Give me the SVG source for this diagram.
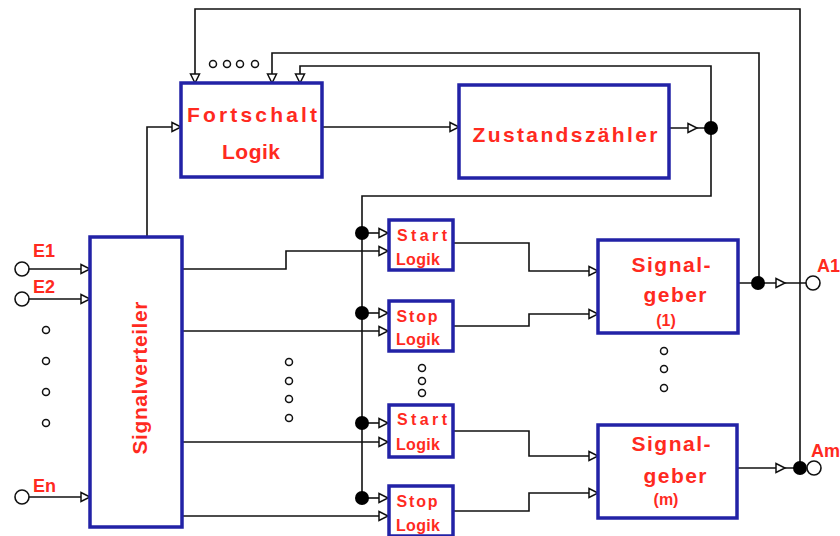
<svg xmlns="http://www.w3.org/2000/svg" xmlns:xlink="http://www.w3.org/1999/xlink" width="840" height="536" viewBox="0 0 840 536">
<style>
.box{fill:#fff;stroke:#2222a6;stroke-width:3.5}
.ln{fill:none;stroke:#111;stroke-width:1.6}
.t{fill:#ff2a1f;font-family:"Liberation Sans",Arial,sans-serif;font-weight:bold;text-anchor:middle}
.big{font-size:21px}
.sm{font-size:16px}
.lbl{fill:#ff2a1f;font-family:"Liberation Sans",Arial,sans-serif;font-weight:bold;font-size:18px}
.dot{fill:#000}
.term{fill:#fff;stroke:#111;stroke-width:1.6}
.sd{fill:#fff;stroke:#111;stroke-width:1.5}
.ar{fill:#fff;stroke:#111;stroke-width:1.5;stroke-linejoin:miter}
</style>
<defs>
<path id="arrR" class="ar" d="M-9,-4.5 L0,0 L-9,4.5 Z"/>
<path id="arrD" class="ar" d="M-4.5,-9 L0,0 L4.5,-9 Z"/>
</defs>
<rect width="840" height="536" fill="#fff"/>

<g id="connectors">
<!-- feedback loops to Fortschalt -->
<polyline class="ln" points="195,83 195,9 800,9 800,468"/>
<polyline class="ln" points="272,83 272,53 759,53 759,283"/>
<polyline class="ln" points="300,83 300,66 711,66 711,196 362,196 362,498"/>
<!-- Signalverteiler to Fortschalt -->
<polyline class="ln" points="147,237 147,127 181,127"/>
<line class="ln" x1="322" y1="127" x2="459" y2="127"/>
<line class="ln" x1="669" y1="128" x2="711" y2="128"/>
<!-- inputs -->
<line class="ln" x1="29" y1="269" x2="90" y2="269"/>
<line class="ln" x1="29" y1="299" x2="90" y2="299"/>
<line class="ln" x1="29" y1="497" x2="90" y2="497"/>
<!-- Signalverteiler outputs -->
<polyline class="ln" points="182,269 286,269 286,251 388,251"/>
<line class="ln" x1="182" y1="331" x2="388" y2="331"/>
<line class="ln" x1="182" y1="442" x2="388" y2="442"/>
<line class="ln" x1="182" y1="516" x2="388" y2="516"/>
<!-- junction branches -->
<line class="ln" x1="362" y1="233" x2="388" y2="233"/>
<line class="ln" x1="362" y1="313" x2="388" y2="313"/>
<line class="ln" x1="362" y1="423" x2="388" y2="423"/>
<line class="ln" x1="362" y1="498" x2="388" y2="498"/>
<!-- Start/Stop to Signalgeber -->
<polyline class="ln" points="453,243 529,243 529,271 598,271"/>
<polyline class="ln" points="453,326 529,326 529,314 598,314"/>
<polyline class="ln" points="453,431 529,431 529,456 598,456"/>
<polyline class="ln" points="453,511 529,511 529,493 598,493"/>
<!-- outputs -->
<line class="ln" x1="738" y1="283" x2="806" y2="283"/>
<line class="ln" x1="737" y1="468" x2="806" y2="468"/>

<use xlink:href="#arrD" x="195" y="83"/>
<use xlink:href="#arrD" x="272" y="83"/>
<use xlink:href="#arrD" x="300" y="83"/>
<use xlink:href="#arrR" x="181" y="127"/>
<use xlink:href="#arrR" x="459" y="127"/>
<use xlink:href="#arrR" x="697" y="128"/>
<use xlink:href="#arrR" x="90" y="269"/>
<use xlink:href="#arrR" x="90" y="299"/>
<use xlink:href="#arrR" x="90" y="497"/>
<use xlink:href="#arrR" x="388" y="233"/>
<use xlink:href="#arrR" x="388" y="251"/>
<use xlink:href="#arrR" x="388" y="313"/>
<use xlink:href="#arrR" x="388" y="331"/>
<use xlink:href="#arrR" x="388" y="423"/>
<use xlink:href="#arrR" x="388" y="442"/>
<use xlink:href="#arrR" x="388" y="498"/>
<use xlink:href="#arrR" x="388" y="516"/>
<use xlink:href="#arrR" x="598" y="271"/>
<use xlink:href="#arrR" x="598" y="314"/>
<use xlink:href="#arrR" x="598" y="456"/>
<use xlink:href="#arrR" x="598" y="493"/>
<use xlink:href="#arrR" x="785" y="283"/>
<use xlink:href="#arrR" x="785" y="468"/>

<circle class="dot" cx="711" cy="128" r="7"/>
<circle class="dot" cx="362" cy="233" r="7"/>
<circle class="dot" cx="362" cy="313" r="7"/>
<circle class="dot" cx="362" cy="423" r="7"/>
<circle class="dot" cx="362" cy="498" r="7"/>
<circle class="dot" cx="758" cy="283" r="7"/>
<circle class="dot" cx="800" cy="468" r="7"/>
</g>

<g id="terminals">
<circle class="term" cx="22" cy="269" r="7"/>
<circle class="term" cx="22" cy="299" r="7"/>
<circle class="term" cx="22" cy="497" r="7"/>
<circle class="term" cx="813" cy="283" r="7"/>
<circle class="term" cx="814" cy="468" r="7"/>
<text class="lbl" x="33" y="257">E1</text>
<text class="lbl" x="33" y="293">E2</text>
<text class="lbl" x="33" y="492">En</text>
<text class="lbl" x="817" y="272">A1</text>
<text class="lbl" x="811" y="457">Am</text>
</g>

<g id="ellipsis">
<circle class="sd" cx="213" cy="64" r="3.5"/>
<circle class="sd" cx="227" cy="64" r="3.5"/>
<circle class="sd" cx="240" cy="64" r="3.5"/>
<circle class="sd" cx="255" cy="64" r="3.5"/>
<circle class="sd" cx="46" cy="330" r="3.5"/>
<circle class="sd" cx="46" cy="361" r="3.5"/>
<circle class="sd" cx="46" cy="392" r="3.5"/>
<circle class="sd" cx="46" cy="423" r="3.5"/>
<circle class="sd" cx="289" cy="362" r="3.5"/>
<circle class="sd" cx="289" cy="381" r="3.5"/>
<circle class="sd" cx="289" cy="399" r="3.5"/>
<circle class="sd" cx="289" cy="418" r="3.5"/>
<circle class="sd" cx="422" cy="368" r="3.5"/>
<circle class="sd" cx="422" cy="381" r="3.5"/>
<circle class="sd" cx="422" cy="393" r="3.5"/>
<circle class="sd" cx="664" cy="351" r="3.5"/>
<circle class="sd" cx="664" cy="369" r="3.5"/>
<circle class="sd" cx="664" cy="388" r="3.5"/>
</g>

<g id="fortschalt">
<rect class="box" x="181" y="83" width="141" height="94"/>
<text class="t big" x="252" y="122" textLength="130" lengthAdjust="spacing">Fortschalt</text>
<text class="t big" x="251" y="159" textLength="58" lengthAdjust="spacing">Logik</text>
</g>

<g id="zustandszaehler">
<rect class="box" x="459" y="85" width="210" height="93"/>
<text class="t big" x="565" y="142" textLength="185" lengthAdjust="spacing">Zustandszähler</text>
</g>

<g id="signalverteiler">
<rect class="box" x="90" y="237" width="92" height="290"/>
<text class="t big" transform="translate(147,378) rotate(-90)" textLength="153" lengthAdjust="spacing">Signalverteiler</text>
</g>

<g id="start1">
<rect class="box" x="389" y="220" width="64" height="50"/>
<text class="t sm" x="422" y="241" textLength="50" lengthAdjust="spacing">Start</text>
<text class="t sm" x="418" y="265" textLength="44" lengthAdjust="spacing">Logik</text>
</g>

<g id="stop1">
<rect class="box" x="389" y="301" width="64" height="50"/>
<text class="t sm" x="417" y="322" textLength="41" lengthAdjust="spacing">Stop</text>
<text class="t sm" x="418" y="345" textLength="44" lengthAdjust="spacing">Logik</text>
</g>

<g id="start2">
<rect class="box" x="389" y="405" width="64" height="52"/>
<text class="t sm" x="422" y="425" textLength="50" lengthAdjust="spacing">Start</text>
<text class="t sm" x="418" y="450" textLength="44" lengthAdjust="spacing">Logik</text>
</g>

<g id="stop2">
<rect class="box" x="389" y="486" width="64" height="50"/>
<text class="t sm" x="417" y="507" textLength="41" lengthAdjust="spacing">Stop</text>
<text class="t sm" x="418" y="531" textLength="44" lengthAdjust="spacing">Logik</text>
</g>

<g id="signalgeber1">
<rect class="box" x="598" y="240" width="140" height="93"/>
<text class="t big" x="671" y="272" textLength="79" lengthAdjust="spacing">Signal-</text>
<text class="t big" x="675" y="302" textLength="63" lengthAdjust="spacing">geber</text>
<text class="t sm" x="666" y="326">(1)</text>
</g>

<g id="signalgeberm">
<rect class="box" x="598" y="425" width="139" height="93"/>
<text class="t big" x="671" y="451" textLength="79" lengthAdjust="spacing">Signal-</text>
<text class="t big" x="675" y="483" textLength="63" lengthAdjust="spacing">geber</text>
<text class="t sm" x="666" y="505">(m)</text>
</g>
</svg>
